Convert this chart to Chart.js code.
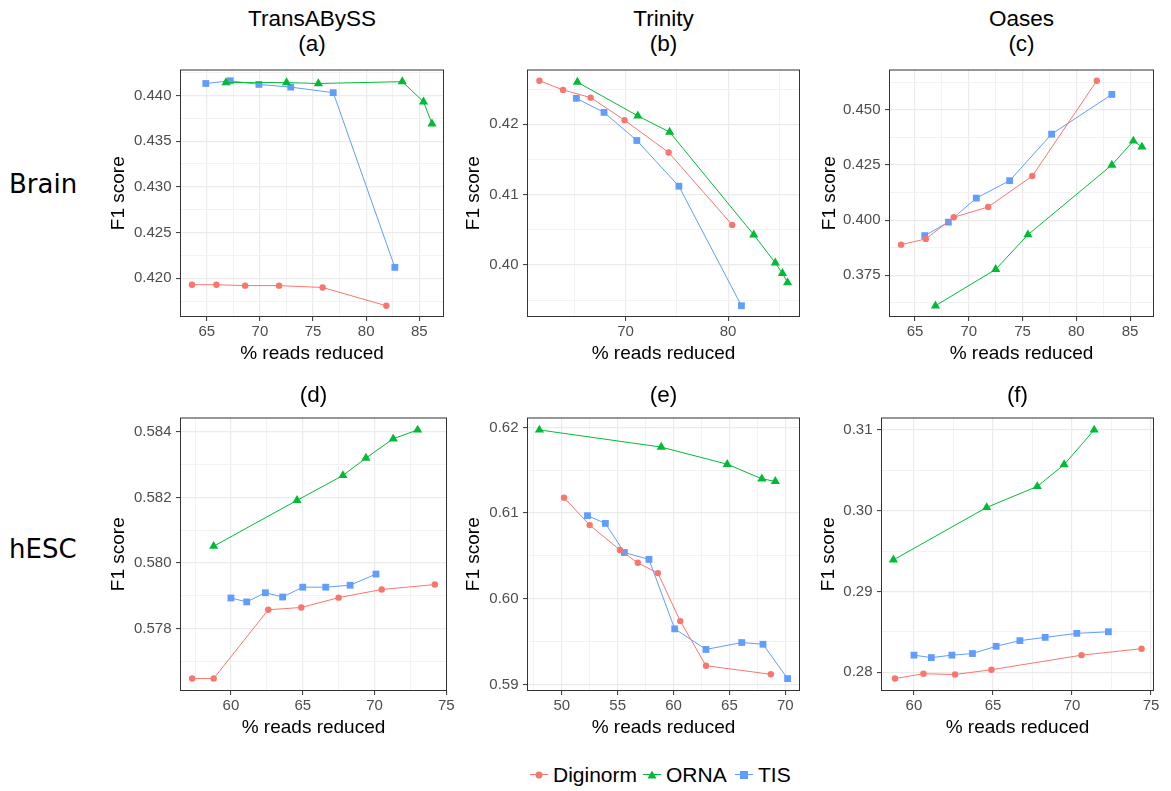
<!DOCTYPE html>
<html>
<head>
<meta charset="utf-8">
<title>F1 score vs % reads reduced</title>
<script src="https://cdn.jsdelivr.net/npm/chart.js@4.4.1/dist/chart.umd.min.js"></script>
<style>
    body {
        margin: 0;
        width: 1171px;
        height: 791px;
        position: relative;
        overflow: hidden;
        background: #ffffff;
        font-family: 'Liberation Sans', Arial, sans-serif;
    }
    .panel { position: absolute; }
    .col-title {
        position: absolute;
        text-align: center;
        font-size: 22.5px;
        line-height: 25px;
        color: #000000;
        white-space: nowrap;
    }
    .row-label {
        position: absolute;
        font-family: 'DejaVu Sans', sans-serif;
        font-size: 26px;
        line-height: 34px;
        color: #000000;
    }
    .legend-item {
        position: absolute;
        top: 762px;
        height: 25px;
        display: flex;
        align-items: center;
        font-size: 21px;
        line-height: 25px;
        color: #000000;
    }
    .legend-key {
        position: relative;
        width: 18px;
        height: 25px;
        margin-right: 5px;
    }
    .legend-key .line {
        position: absolute;
        left: 0;
        width: 18px;
        top: 12px;
        height: 1px;
    }
    .legend-key .mark {
        position: absolute;
        left: 50%;
        top: 12.5px;
        transform: translate(-50%, -50%);
    }
</style>
</head>
<body>
<script>
const SERIES = ['Diginorm', 'ORNA', 'TIS'];
const COLORS = ['#F8766D', '#00BA38', '#619CFF'];
const SHAPES = ['circle', 'triangle', 'rect'];
const POINT_RADIUS = [3.2, 5.3, 4.8];

const ASSEMBLERS = ['TransABySS', 'Trinity', 'Oases'];
const SAMPLES = ['Brain', 'hESC'];
const PANEL_TAGS = ['(a)', '(b)', '(c)', '(d)', '(e)', '(f)'];

// (a) TransABySS / Brain
const aDiginormX = [63.6, 65.9, 68.6, 71.8, 75.9, 81.9];
const aDiginormY = [0.4193, 0.4193, 0.4192, 0.4192, 0.4190, 0.4170];
const aOrnaX = [66.8, 72.5, 75.5, 83.4, 85.4, 86.2];
const aOrnaY = [0.4414, 0.4414, 0.4413, 0.4415, 0.4393, 0.4369];
const aTisX = [64.9, 67.2, 69.9, 72.9, 76.9, 82.7];
const aTisY = [0.4413, 0.4416, 0.4412, 0.4409, 0.4403, 0.4212];
const aTicksX = ['65', '70', '75', '80', '85'];
const aTicksY = ['0.420', '0.425', '0.430', '0.435', '0.440'];

// (b) Trinity / Brain
const bDiginormX = [61.6, 63.9, 66.6, 69.9, 74.2, 80.4];
const bDiginormY = [0.4262, 0.4249, 0.4238, 0.4206, 0.4160, 0.4057];
const bOrnaX = [65.3, 71.2, 74.3, 82.5, 84.6, 85.3, 85.8];
const bOrnaY = [0.4260, 0.4212, 0.4189, 0.4043, 0.4003, 0.3988, 0.3975];
const bTisX = [65.2, 67.9, 71.1, 75.2, 81.3];
const bTisY = [0.4237, 0.4217, 0.4177, 0.4112, 0.3942];
const bTicksX = ['70', '80'];
const bTicksY = ['0.40', '0.41', '0.42'];

// (c) Oases / Brain
const cDiginormX = [63.7, 66.0, 68.6, 71.8, 75.9, 81.9];
const cDiginormY = [0.3889, 0.3915, 0.4013, 0.4060, 0.4200, 0.4632];
const cOrnaX = [66.9, 72.5, 75.5, 83.3, 85.3, 86.1];
const cOrnaY = [0.3612, 0.3777, 0.3934, 0.4250, 0.4359, 0.4332];
const cTisX = [65.9, 68.1, 70.7, 73.8, 77.7, 83.3];
const cTisY = [0.3930, 0.3991, 0.4100, 0.4179, 0.4390, 0.4570];
const cTicksX = ['65', '70', '75', '80', '85'];
const cTicksY = ['0.375', '0.400', '0.425', '0.450'];

// (d) TransABySS / hESC
const dDiginormX = [57.3, 58.8, 62.6, 64.9, 67.5, 70.5, 74.2];
const dDiginormY = [0.57647, 0.57647, 0.57857, 0.57864, 0.57894, 0.57919, 0.57934];
const dOrnaX = [58.8, 64.6, 67.8, 69.4, 71.3, 73.0];
const dOrnaY = [0.58051, 0.58191, 0.58267, 0.58320, 0.58379, 0.58406];
const dTisX = [60.0, 61.1, 62.4, 63.6, 65.0, 66.6, 68.3, 70.1];
const dTisY = [0.57893, 0.57881, 0.57909, 0.57896, 0.57926, 0.57926, 0.57932, 0.57966];
const dTicksX = ['60', '65', '70', '75'];
const dTicksY = ['0.578', '0.580', '0.582', '0.584'];

// (e) Trinity / hESC
const eDiginormX = [50.2, 52.5, 55.2, 56.8, 58.6, 60.6, 62.9, 68.7];
const eDiginormY = [0.6118, 0.6086, 0.6057, 0.6042, 0.6030, 0.5974, 0.5922, 0.5912];
const eOrnaX = [48.0, 58.9, 64.8, 67.9, 69.1];
const eOrnaY = [0.6197, 0.6177, 0.6157, 0.6140, 0.6137];
const eTisX = [52.3, 53.9, 55.6, 57.8, 60.1, 62.9, 66.1, 68.0, 70.2];
const eTisY = [0.6097, 0.6088, 0.6054, 0.6046, 0.5965, 0.5941, 0.5949, 0.5947, 0.5907];
const eTicksX = ['50', '55', '60', '65', '70'];
const eTicksY = ['0.59', '0.60', '0.61', '0.62'];

// (f) Oases / hESC
const fDiginormX = [58.8, 60.6, 62.6, 64.9, 70.6, 74.4];
const fDiginormY = [0.2792, 0.2798, 0.2797, 0.2803, 0.2821, 0.2829];
const fOrnaX = [58.7, 64.6, 67.8, 69.5, 71.4];
const fOrnaY = [0.2939, 0.3004, 0.3030, 0.3057, 0.3100];
const fTisX = [60.0, 61.1, 62.4, 63.7, 65.2, 66.7, 68.3, 70.3, 72.3];
const fTisY = [0.2821, 0.2818, 0.2821, 0.2823, 0.2832, 0.2839, 0.2843, 0.2848, 0.2850];
const fTicksX = ['60', '65', '70', '75'];
const fTicksY = ['0.28', '0.29', '0.30', '0.31'];

// page layout of each plotting area (px)
const PAD_TOP = 10;
const PAD_RIGHT = 20;
const X_AXIS_H = 48;

const panels = [
    { left: 180, top: 66, width: 264, height: 251, yAxisW: 73,
      series: [[aDiginormX, aDiginormY], [aOrnaX, aOrnaY], [aTisX, aTisY]], ticksX: aTicksX, ticksY: aTicksY },
    { left: 527, top: 66, width: 273, height: 251, yAxisW: 65,
      series: [[bDiginormX, bDiginormY], [bOrnaX, bOrnaY], [bTisX, bTisY]], ticksX: bTicksX, ticksY: bTicksY },
    { left: 889, top: 66, width: 265, height: 251, yAxisW: 71,
      series: [[cDiginormX, cDiginormY], [cOrnaX, cOrnaY], [cTisX, cTisY]], ticksX: cTicksX, ticksY: cTicksY },
    { left: 180, top: 414, width: 267, height: 277, yAxisW: 73,
      series: [[dDiginormX, dDiginormY], [dOrnaX, dOrnaY], [dTisX, dTisY]], ticksX: dTicksX, ticksY: dTicksY },
    { left: 527, top: 414, width: 273, height: 277, yAxisW: 65,
      series: [[eDiginormX, eDiginormY], [eOrnaX, eOrnaY], [eTisX, eTisY]], ticksX: eTicksX, ticksY: eTicksY },
    { left: 881, top: 414, width: 273, height: 277, yAxisW: 64,
      series: [[fDiginormX, fDiginormY], [fOrnaX, fOrnaY], [fTisX, fTisY]], ticksX: fTicksX, ticksY: fTicksY }
];

Chart.defaults.font.family = "'Liberation Sans', Arial, sans-serif";

// dark frame round the plotting area, drawn over the data
const panelFrame = {
    id: 'panelFrame',
    afterDraw(chart) {
        const { ctx, chartArea: a } = chart;
        ctx.save();
        ctx.strokeStyle = '#333333';
        ctx.lineWidth = 1;
        ctx.strokeRect(a.left + 0.5, a.top + 0.5, a.right - a.left - 1, a.bottom - a.top - 1);
        ctx.restore();
    }
};

// ggplot-style range: data extent plus 5% on each side
function expandRange(values) {
    const lo = Math.min(...values);
    const hi = Math.max(...values);
    const pad = (hi - lo) * 0.05;
    return [lo - pad, hi + pad];
}

// labelled breaks plus unlabelled minor breaks halfway between them
function buildTicks(labels, min, max) {
    const major = labels.map(Number);
    const step = major[1] - major[0];
    const all = [major[0] - step, ...major, major[major.length - 1] + step];
    const ticks = [];
    for (let i = 0; i < all.length; i++) {
        if (i > 0) {
            const mid = (all[i - 1] + all[i]) / 2;
            if (mid >= min && mid <= max) ticks.push({ value: mid, minor: true });
        }
        const k = i - 1;
        if (k >= 0 && k < major.length && major[k] >= min && major[k] <= max) {
            ticks.push({ value: major[k], text: labels[k] });
        }
    }
    return ticks;
}

function axisOptions(axis, labels, range, p) {
    return {
        type: 'linear',
        position: axis === 'x' ? 'bottom' : 'left',
        min: range[0],
        max: range[1],
        afterBuildTicks: scale => { scale.ticks = buildTicks(labels, range[0], range[1]); },
        afterFit: scale => {
            if (axis === 'x') scale.height = X_AXIS_H;
            else scale.width = p.yAxisW;
        },
        border: { display: false },
        grid: {
            color: c => (c.tick && c.tick.minor) ? '#F2F2F2' : '#EBEBEB',
            lineWidth: c => (c.tick && c.tick.minor) ? 1 : 1.2,
            drawTicks: true,
            tickLength: 4,
            tickColor: c => (c.tick && c.tick.minor) ? 'rgba(0,0,0,0)' : '#333333',
            tickWidth: 1
        },
        ticks: {
            autoSkip: false,
            maxRotation: 0,
            minRotation: 0,
            padding: axis === 'x' ? 2 : 4.5,
            color: '#4D4D4D',
            font: { size: 15 },
            callback: (v, i, ticks) => ticks[i].text || ''
        },
        title: {
            display: true,
            text: axis === 'x' ? '% reads reduced' : 'F1 score',
            color: '#000000',
            font: { size: 19 },
            padding: 0
        }
    };
}

function renderPanel(p) {
    const box = document.createElement('div');
    box.className = 'panel';
    const w = p.yAxisW + p.width + PAD_RIGHT;
    const h = PAD_TOP + p.height + X_AXIS_H;
    box.style.left = (p.left - p.yAxisW) + 'px';
    box.style.top = (p.top - PAD_TOP) + 'px';
    box.style.width = w + 'px';
    box.style.height = h + 'px';
    const canvas = document.createElement('canvas');
    box.appendChild(canvas);
    document.body.appendChild(box);

    const xs = [].concat(...p.series.map(s => s[0]));
    const ys = [].concat(...p.series.map(s => s[1]));

    new Chart(canvas.getContext('2d'), {
        type: 'scatter',
        data: {
            datasets: p.series.map((s, k) => ({
                label: SERIES[k],
                data: s[0].map((x, i) => ({ x: x, y: s[1][i] })),
                showLine: true,
                borderColor: COLORS[k],
                borderWidth: 1,
                backgroundColor: COLORS[k],
                pointStyle: SHAPES[k],
                pointRadius: POINT_RADIUS[k],
                pointBackgroundColor: COLORS[k],
                pointBorderWidth: 0,
                clip: false
            }))
        },
        options: {
            responsive: true,
            maintainAspectRatio: false,
            animation: false,
            events: [],
            layout: { padding: { top: PAD_TOP, right: PAD_RIGHT, left: 0, bottom: 0 } },
            plugins: {
                legend: { display: false },
                tooltip: { enabled: false }
            },
            scales: {
                x: axisOptions('x', p.ticksX, expandRange(xs), p),
                y: axisOptions('y', p.ticksY, expandRange(ys), p)
            }
        },
        plugins: [panelFrame]
    });
}

function addText(cls, html, style) {
    const el = document.createElement('div');
    el.className = cls;
    el.innerHTML = html;
    Object.assign(el.style, style);
    document.body.appendChild(el);
}

panels.forEach(renderPanel);

// column headings and panel tags
panels.forEach((p, i) => {
    const col = i % 3;
    const text = i < 3 ? ASSEMBLERS[col] + '<br>' + PANEL_TAGS[i] : PANEL_TAGS[i];
    addText('col-title', text, {
        left: p.left + 'px',
        width: p.width + 'px',
        top: (i < 3 ? 5.5 : 382) + 'px'
    });
});

// sample names on the left
addText('row-label', SAMPLES[0], { left: '9px', top: '167px' });
addText('row-label', SAMPLES[1], { left: '9px', top: '531.5px' });

// shared legend along the bottom
const legendLeft = [530, 643, 735];
SERIES.forEach((name, k) => {
    const item = document.createElement('div');
    item.className = 'legend-item';
    item.style.left = legendLeft[k] + 'px';
    const key = document.createElement('div');
    key.className = 'legend-key';
    const line = document.createElement('div');
    line.className = 'line';
    line.style.background = COLORS[k];
    const mark = document.createElement('div');
    mark.className = 'mark';
    mark.style.background = COLORS[k];
    if (SHAPES[k] === 'circle') {
        mark.style.width = '7px';
        mark.style.height = '7px';
        mark.style.borderRadius = '50%';
    } else if (SHAPES[k] === 'triangle') {
        mark.style.width = '9px';
        mark.style.height = '8px';
        mark.style.clipPath = 'polygon(50% 0, 100% 100%, 0 100%)';
    } else {
        mark.style.width = '8px';
        mark.style.height = '8px';
    }
    key.appendChild(line);
    key.appendChild(mark);
    const label = document.createElement('span');
    label.textContent = name;
    item.appendChild(key);
    item.appendChild(label);
    document.body.appendChild(item);
});
</script>
</body>
</html>
